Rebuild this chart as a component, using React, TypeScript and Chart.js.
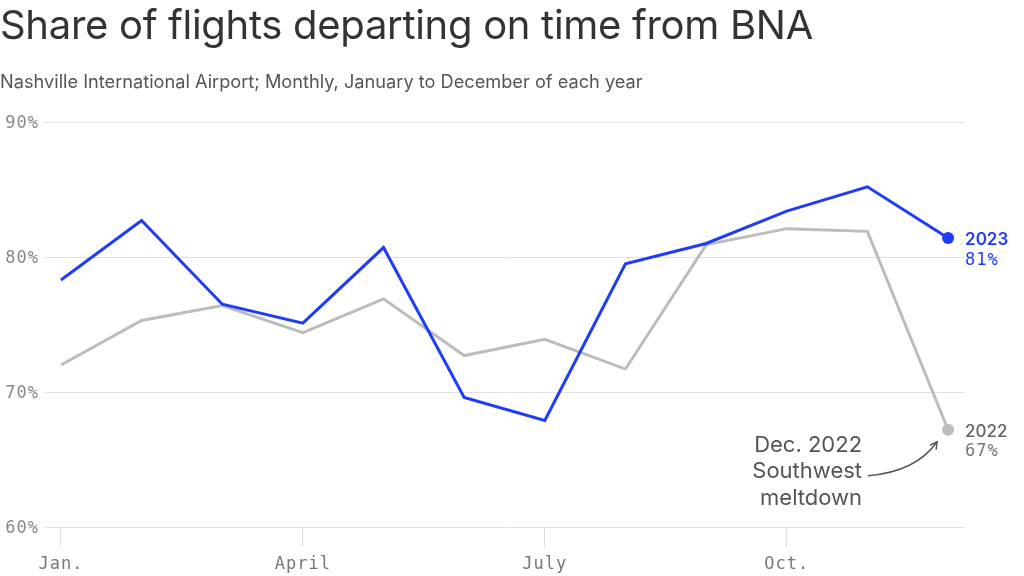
import { useEffect, useRef } from 'react';
import { Chart, registerables } from 'chart.js';

Chart.register(...registerables);

// month labels, Jan. to Dec.
const months = ['Jan.', 'Feb.', 'March', 'April', 'May', 'June', 'July', 'Aug.', 'Sept.', 'Oct.', 'Nov.', 'Dec.'];
const shownMonths = [0, 3, 6, 9];
const yTicks = [60, 70, 80, 90];

// share of flights on time (%)
const onTime2023 = [78.3, 82.7, 76.5, 75.1, 80.7, 69.6, 67.9, 79.5, 81.0, 83.4, 85.2, 81.4];
const onTime2022 = [72.0, 75.3, 76.4, 74.4, 76.9, 72.7, 73.9, 71.7, 80.9, 82.1, 81.9, 67.2];

const annotationLines = ['Dec. 2022', 'Southwest', 'meltdown'];

const BLUE = '#1f3cf7';
const GRAY = '#bcbcbc';
const MONO = '"DejaVu Sans Mono", monospace';
const SANS = 'Inter, "Noto Sans", sans-serif';

// wider spacing for the mono tick labels
const spacing = {
  id: 'spacing',
  beforeDraw(chart: Chart) {
    (chart.ctx as any).letterSpacing = '1px';
  },
};

const endLabels = {
  id: 'endLabels',
  afterDatasetsDraw(chart: Chart) {
    const ctx = chart.ctx;
    const last = months.length - 1;
    const p23 = chart.getDatasetMeta(0).data[last];
    const p22 = chart.getDatasetMeta(1).data[last];
    ctx.save();
    ctx.textAlign = 'left';
    ctx.textBaseline = 'middle';

    // 2023
    (ctx as any).letterSpacing = '0px';
    ctx.fillStyle = BLUE;
    ctx.font = `600 17px ${SANS}`;
    ctx.fillText('2023', p23.x + 17, p23.y + 2);
    (ctx as any).letterSpacing = '1px';
    ctx.font = `17px ${MONO}`;
    ctx.fillText(Math.round(onTime2023[last]) + '%', p23.x + 17, p23.y + 22);

    // 2022
    (ctx as any).letterSpacing = '0px';
    ctx.fillStyle = '#666';
    ctx.font = `500 17px ${SANS}`;
    ctx.fillText('2022', p22.x + 17, p22.y + 2);
    (ctx as any).letterSpacing = '1px';
    ctx.fillStyle = '#777';
    ctx.font = `17px ${MONO}`;
    ctx.fillText(Math.round(onTime2022[last]) + '%', p22.x + 17, p22.y + 22);

    // annotation
    (ctx as any).letterSpacing = '0px';
    ctx.fillStyle = '#555';
    ctx.font = `22px ${SANS}`;
    ctx.textAlign = 'right';
    ctx.textBaseline = 'alphabetic';
    annotationLines.forEach((line, i) => {
      ctx.fillText(line, p22.x - 86, p22.y + 22 + i * 26.5);
    });

    // curved arrow
    const sx = p22.x - 80, sy = p22.y + 46;
    const ex = p22.x - 11, ey = p22.y + 12;
    const cx = p22.x - 32, cy = p22.y + 42;
    ctx.strokeStyle = '#555';
    ctx.lineWidth = 1.5;
    ctx.beginPath();
    ctx.moveTo(sx, sy);
    ctx.quadraticCurveTo(cx, cy, ex, ey);
    ctx.stroke();
    const ang = Math.atan2(ey - cy, ex - cx);
    const head = 8;
    ctx.beginPath();
    ctx.moveTo(ex - head * Math.cos(ang - 0.5), ey - head * Math.sin(ang - 0.5));
    ctx.lineTo(ex, ey);
    ctx.lineTo(ex - head * Math.cos(ang + 0.5), ey - head * Math.sin(ang + 0.5));
    ctx.stroke();
    ctx.restore();
  },
};

export default function App() {
  const chartRef = useRef<HTMLCanvasElement>(null);

  useEffect(() => {
    document.body.style.margin = '0';
    if (!chartRef.current) return;
    const lastIdx = months.length - 1;
    const dot = (c: any) => (c.dataIndex === lastIdx ? 6 : 0);

    const myChart = new Chart(chartRef.current, {
      type: 'line',
      data: {
        datasets: [
          {
            label: '2023',
            data: onTime2023.map((v, i) => ({ x: i, y: v })),
            borderColor: BLUE,
            backgroundColor: BLUE,
            borderWidth: 3,
            pointRadius: dot,
            pointBorderWidth: 0,
            pointBackgroundColor: BLUE,
            tension: 0,
          },
          {
            label: '2022',
            data: onTime2022.map((v, i) => ({ x: i, y: v })),
            borderColor: GRAY,
            backgroundColor: GRAY,
            borderWidth: 3,
            pointRadius: dot,
            pointBorderWidth: 0,
            pointBackgroundColor: GRAY,
            tension: 0,
          },
        ],
      },
      options: {
        responsive: true,
        maintainAspectRatio: false,
        animation: false,
        layout: { padding: { top: 122, right: 59, bottom: 0, left: 0 } },
        plugins: {
          legend: { display: false },
          tooltip: { enabled: false },
        },
        scales: {
          x: {
            type: 'linear',
            min: -0.21,
            max: 11.21,
            afterBuildTicks: (scale: any) => {
              scale.ticks = shownMonths.map((v) => ({ value: v }));
            },
            afterFit: (scale: any) => {
              scale.height = 49;
            },
            grid: { drawOnChartArea: false, drawTicks: true, tickLength: 20, color: '#dcdcdc' },
            border: { display: false },
            ticks: {
              autoSkip: false,
              maxRotation: 0,
              padding: 7,
              color: '#777',
              font: { family: MONO, size: 17 },
              callback: (v: any) => months[v as number],
            },
          },
          y: {
            min: 60,
            max: 90,
            afterBuildTicks: (scale: any) => {
              scale.ticks = yTicks.map((v) => ({ value: v }));
            },
            afterFit: (scale: any) => {
              scale.width = 44;
            },
            grid: { drawTicks: false, color: '#e2e2e2' },
            border: { display: false },
            ticks: {
              padding: 5,
              labelOffset: 1.5,
              color: '#888',
              font: { family: MONO, size: 17 },
              callback: (v: any) => v + '%',
            },
          },
        },
      },
      plugins: [spacing, endLabels],
    });

    return () => {
      myChart.destroy();
    };
  }, []);

  return (
    <div style={{ position: 'absolute', left: 0, top: 0, width: 1024, height: 576, background: '#fff' }}>
      <div style={{ position: 'absolute', left: 0, top: 0, width: 1024, height: 576 }}>
        <canvas ref={chartRef} />
      </div>
      <div
        style={{
          position: 'absolute',
          left: 0,
          top: 0,
          fontFamily: SANS,
          fontSize: 40,
          lineHeight: '50px',
          color: '#333',
          letterSpacing: '-0.3px',
          whiteSpace: 'nowrap',
        }}
      >
        Share of flights departing on time from BNA
      </div>
      <div
        style={{
          position: 'absolute',
          left: 0,
          top: 69,
          fontFamily: SANS,
          fontSize: 18.2,
          lineHeight: '24px',
          color: '#555',
          whiteSpace: 'nowrap',
        }}
      >
        Nashville International Airport; Monthly, January to December of each year
      </div>
    </div>
  );
}
